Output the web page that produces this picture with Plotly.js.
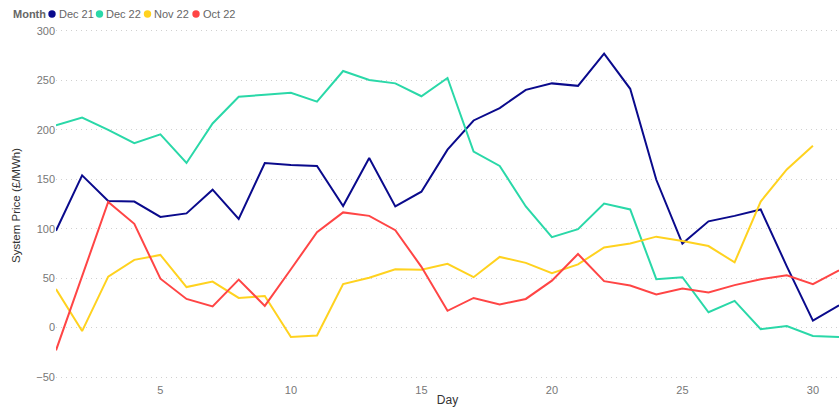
<!DOCTYPE html>
<html>
<head>
<meta charset="utf-8">
<script src="https://cdn.plot.ly/plotly-3.0.1.min.js"></script>
<style>html,body{margin:0;padding:0;background:#fff;}#chart{width:839px;height:407px;}</style>
</head>
<body>
<div id="chart"></div>
<script>
const days = [1,2,3,4,5,6,7,8,9,10,11,12,13,14,15,16,17,18,19,20,21,22,23,24,25,26,27,28,29,30,31];
const seriesNames = ["Dec 21","Dec 22","Nov 22","Oct 22"];
const seriesColors = ["#0A0A8C","#2AD8A8","#FFD21F","#FF4545"];
const legendTitle = "Month";
const dec21 = [98,154,128,127.5,112,115.5,139.5,110,166.5,164.5,163.5,123,171.5,122.5,137.5,180,209.5,222,240.5,247,244.5,277,241.5,149.5,85,107.5,113,119.5,62,7,22.5];
const dec22 = [204.5,212.5,200,186.5,195.5,166.5,206.5,233.5,235.5,237.5,228.5,259.5,250.5,247,234,252.5,178,163.5,122.5,91.5,99.5,125.5,119.5,49,51,15.5,27,-1.5,1.5,-8.5,-9.5];
const nov22 = [39,-3.5,51.5,68.5,73.5,41,46.5,30,32,-9.5,-8,44,50.5,59,58.5,64.5,51,71.5,65.5,55,64,81,85,92,87.5,82.5,66,127.5,160,184,null];
const oct22 = [-23,51,127,105,49.5,29,21.5,48.5,22,59,96.5,116.5,113,98.5,61.5,17,30,23.5,29,47.5,74.5,47,42.5,33.5,39.5,35.5,43,49,53,44,58];
const allSeries = [dec21, dec22, nov22, oct22];

const traces = allSeries.map((vals, i) => ({
  x: days, y: vals, type: 'scatter', mode: 'lines', name: seriesNames[i],
  line: {color: seriesColors[i], width: 2}, showlegend: false
}));

// legend layout (pixels)
const L = 56, W = 783, T = 29, H = 353;
const px = v => (v - L) / W;
const legY = 1 + (T - 14) / H;
const dotX = [52, 99.5, 147.5, 196];
const annotations = [{
  text: '<b>' + legendTitle + '</b>', xref: 'paper', yref: 'paper', x: px(11), y: legY,
  xanchor: 'left', yanchor: 'middle', showarrow: false,
  font: {family: 'Liberation Sans, Arial, sans-serif', size: 11, color: '#666'}
}];
const shapes = [];
seriesNames.forEach((n, i) => {
  shapes.push({type: 'circle', xref: 'paper', yref: 'paper',
    x0: px(dotX[i] - 3.7), x1: px(dotX[i] + 3.7), y0: legY - 3.7 / H, y1: legY + 3.7 / H,
    fillcolor: seriesColors[i], line: {width: 0}});
  annotations.push({
    text: n, xref: 'paper', yref: 'paper', x: px(dotX[i] + 4.5), y: legY,
    xanchor: 'left', yanchor: 'middle', showarrow: false,
    font: {family: 'Liberation Sans, Arial, sans-serif', size: 11, color: '#666'}
  });
});

const layout = {
  width: 839, height: 407,
  margin: {l: 56, r: 0, t: 29, b: 25},
  paper_bgcolor: '#fff', plot_bgcolor: '#fff',
  font: {family: 'Liberation Sans, Arial, sans-serif', size: 11, color: '#777'},
  showlegend: false,
  annotations: annotations,
  shapes: shapes,
  xaxis: {
    range: [1, 31], tickvals: [5,10,15,20,25,30], showgrid: false, zeroline: false, showline: false,
    ticks: '', tickfont: {size: 11, color: '#777'},
    title: {text: 'Day', font: {size: 12, color: '#333'}, standoff: 2}
  },
  yaxis: {
    range: [-55, 302], tickvals: [-50,0,50,100,150,200,250,300],
    showgrid: true, gridcolor: '#d0d0d0', griddash: '1px,4px', gridwidth: 1,
    zeroline: false, showline: false, ticks: '', ticklen: 0,
    tickfont: {size: 11, color: '#777'},
    title: {text: 'System Price (£/MWh)', font: {size: 11.5, color: '#333'}, standoff: 13}
  }
};
Plotly.newPlot('chart', traces, layout, {displayModeBar: false, staticPlot: true});
</script>
</body>
</html>
